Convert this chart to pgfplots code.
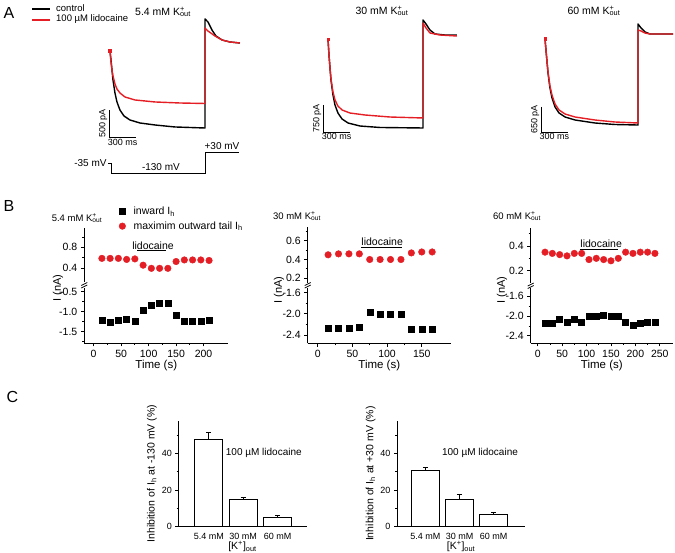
\documentclass[border=0pt]{standalone}
\usepackage{pgfplots}
\pgfplotsset{compat=1.18}
\usepackage{fontspec}
\setmainfont{Liberation Sans}
\definecolor{lred}{RGB}{228,30,36}
\newcommand{\Kout}{K\rlap{\textsuperscript{+}}\textsubscript{out}}
\newcommand{\fs}[1]{\fontsize{#1}{#1}\selectfont}

\pgfplotsset{
  /pgf/number format/assume math mode=true,
  trace/.style={scale only axis, hide axis, clip=false, anchor=south west,
    xmin=-100, xmax=1450},
  bl/.style={black, line width=1.4pt, line join=round},
  rd/.style={lred, line width=1.4pt, line join=round},
  bax/.style={scale only axis, anchor=south west, clip=false,
    axis y line*=left, tick align=outside,
    axis line style={-, line width=0.9pt},
    every tick/.style={black, line width=0.8pt},
    major tick length=3.5pt, minor tick length=2pt,
    tick label style={font=\fs{10.5}},
    yticklabel style={/pgf/number format/.cd, fixed, fixed zerofill, precision=1}},
  bup/.style={bax, axis x line=none},
  blo/.style={bax, axis x line*=bottom, minor x tick num=1,
    xlabel={Time (s)}, xlabel style={font=\fs{11.5}, yshift=4pt}},
  sq/.style={only marks, mark=square*, mark size=3pt, black},
  ci/.style={only marks, mark=*, mark size=3.3pt, lred, mark options={draw=lred, fill=lred}},
  cax/.style={scale only axis, anchor=south west, clip=false, height=106pt,
    ymin=0, ymax=57.8, axis x line*=bottom, axis y line*=left,
    axis line style={-, line width=0.9pt}, tick align=outside,
    every tick/.style={black, line width=0.8pt},
    major tick length=3pt, minor tick length=1.8pt,
    ytick={0,20,40}, minor ytick={10,30,50},
    xtick={0,1,2}, xticklabels={5.4 mM,30 mM,60 mM}, xtick style={draw=none},
    ybar, bar width=27.8pt,
    tick label style={font=\fs{9}}, label style={font=\fs{10.5}},
    xlabel={[K\textsuperscript{+}]\textsubscript{out}}, xlabel style={yshift=5pt}},
  cbar/.style={fill=white, draw=black, line width=1pt,
    error bars/.cd, y dir=plus, y explicit,
    error bar style={line width=1pt},
    error mark options={rotate=90, mark size=2.6pt, line width=1pt}},
}

\begin{document}
\begin{tikzpicture}
\useasboundingbox (0pt,0pt) rectangle (675pt,552pt);

% panel letters
\node[font=\fs{16}, anchor=west] at (0pt,539pt) {A};
\node[font=\fs{16}, anchor=west] at (0pt,346pt) {B};
\node[font=\fs{16}, anchor=west] at (3pt,155pt) {C};

% ---------------- A ----------------
\draw[black, line width=1.1pt] (32pt,543pt) -- (50pt,543pt);
\node[font=\fs{9.5}, anchor=west, inner sep=0pt] at (56pt,543.5pt) {control};
\draw[lred, line width=1.1pt] (32pt,532pt) -- (50pt,532pt);
\node[font=\fs{9.5}, anchor=west, inner sep=0pt] at (56pt,532.5pt) {100 µM lidocaine};

\node[font=\fs{10.5}] at (163pt,540pt) {5.4 mM \Kout};
\node[font=\fs{10.5}] at (382pt,541pt) {30 mM \Kout};
\node[font=\fs{10.5}] at (594pt,541pt) {60 mM \Kout};

\begin{axis}[trace, at={(100.95pt,393pt)}, width=140.25pt, height=151.2pt,
  ymin=-2000, ymax=800]
\addplot[bl] coordinates {(0,0) (11,-167) (22,-352) (33,-537) (55,-778) (77,-944)
  (110,-1093) (155,-1204) (221,-1278) (331,-1333) (497,-1370) (718,-1407) (1050,-1426)
  (1050,593) (1083,537) (1127,389) (1171,278) (1238,204) (1326,167) (1436,148)};
\addplot[rd] coordinates {(0,0) (11,-204) (22,-352) (33,-463) (55,-611) (77,-704)
  (110,-778) (166,-852) (276,-907) (497,-944) (773,-963) (1050,-972)
  (1050,426) (1083,370) (1160,278) (1238,204) (1326,167) (1436,148)};
\addplot[only marks, mark=square*, mark size=1.3pt, lred] coordinates {(0,0)};
\addplot[black, line width=1pt] coordinates {(-22,-2080) (19,-2080) (19,-2265)
  (1050,-2265) (1050,-1883) (1429,-1883)};
\draw[line width=0.9pt] (axis cs:-11,-1093) -- (axis cs:-11,-1593) -- (axis cs:289,-1593);
\node[font=\fs{9}, rotate=90, anchor=south, inner sep=1.5pt] at (axis cs:-11,-1343) {500 pA};
\node[font=\fs{9}, anchor=north, inner sep=1.5pt] at (axis cs:139,-1593) {300 ms};
\node[font=\fs{10}, anchor=east, inner sep=1pt] at (axis cs:-25,-2080) {-35 mV};
\node[font=\fs{10}] at (axis cs:563,-2148) {-130 mV};
\node[font=\fs{10}] at (axis cs:1238,-1759) {+30 mV};
\end{axis}

\begin{axis}[trace, at={(318.95pt,405pt)}, width=140.25pt, height=136.8pt,
  ymin=-3000, ymax=800]
\addplot[bl] coordinates {(0,0) (11,-444) (22,-806) (33,-1139) (55,-1556) (77,-1833)
  (110,-2056) (155,-2222) (221,-2333) (354,-2417) (575,-2458) (1050,-2472)
  (1050,528) (1083,417) (1127,250) (1182,139) (1293,111) (1425,111)};
\addplot[rd] coordinates {(0,0) (11,-444) (22,-806) (33,-1111) (55,-1472) (77,-1694)
  (110,-1861) (155,-1972) (243,-2056) (409,-2111) (685,-2167) (1050,-2194)
  (1050,444) (1083,306) (1127,167) (1238,111) (1425,83)};
\addplot[only marks, mark=square*, mark size=1.3pt, lred] coordinates {(0,0)};
\draw[line width=0.9pt] (axis cs:-55,-1833) -- (axis cs:-55,-2583) -- (axis cs:245,-2583);
\node[font=\fs{9}, rotate=90, anchor=south, inner sep=1.5pt] at (axis cs:-55,-2208) {750 pA};
\node[font=\fs{9}, anchor=north, inner sep=1.5pt] at (axis cs:95,-2583) {300 ms};
\end{axis}

\begin{axis}[trace, at={(536.14pt,397.5pt)}, width=137.3pt, height=146.3pt,
  ymin=-3000, ymax=800]
\addplot[bl] coordinates {(0,0) (11,-286) (23,-597) (34,-883) (56,-1273) (79,-1532)
  (113,-1766) (158,-1922) (226,-2026) (339,-2104) (564,-2182) (790,-2221) (1050,-2234)
  (1050,390) (1084,286) (1129,182) (1185,130) (1445,130)};
\addplot[rd] coordinates {(0,0) (11,-286) (23,-597) (34,-857) (56,-1221) (79,-1455)
  (113,-1688) (158,-1844) (226,-1948) (339,-2026) (564,-2104) (790,-2156) (1050,-2182)
  (1050,234) (1084,208) (1129,156) (1185,130) (1445,130)};
\addplot[only marks, mark=square*, mark size=1.3pt, lred] coordinates {(0,0)};
\draw[line width=0.9pt] (axis cs:-45,-1766) -- (axis cs:-45,-2416) -- (axis cs:255,-2416);
\node[font=\fs{9}, rotate=90, anchor=south, inner sep=1.5pt] at (axis cs:-45,-2091) {650 pA};
\node[font=\fs{9}, anchor=north, inner sep=1.5pt] at (axis cs:105,-2416) {300 ms};
\end{axis}

% ---------------- B ----------------
\node[font=\fs{9.5}] at (77pt,334pt) {5.4 mM \Kout};
\node[font=\fs{9.5}] at (297pt,336pt) {30 mM \Kout};
\node[font=\fs{9.5}] at (517pt,336pt) {60 mM \Kout};

% B1
\begin{axis}[bup, at={(84.3pt,270pt)}, width=144pt, height=54pt,
  xmin=-17, xmax=245, ymin=0.139, ymax=1.17,
  ytick={0.4,0.8}, minor ytick={0.6,1.0},
  legend style={at={(0.24,1.43)}, anchor=north west, draw=none, fill=none,
    font=\fs{10.5}, row sep=1.5pt, inner sep=0pt,
    /tikz/every odd column/.append style={column sep=6pt}},
  legend cell align=left]
\addlegendimage{sq}
\addlegendentry{inward I\textsubscript{h}}
\addplot[ci] coordinates {(15,0.59) (30,0.59) (45,0.59) (60,0.57) (75,0.58) (90,0.46)
  (105,0.40) (120,0.40) (135,0.40) (150,0.53) (165,0.56) (180,0.56) (195,0.56) (210,0.55)};
\addlegendentry{maximim outward tail I\textsubscript{h}}
\draw[line width=0.9pt] (axis cs:79,0.732) -- (axis cs:132,0.732);
\node[font=\fs{10.5}, anchor=south, inner sep=1.5pt] at (axis cs:108,0.732) {lidocaine};
\end{axis}
\begin{axis}[blo, at={(84.3pt,209pt)}, width=144pt, height=55pt,
  xmin=-17, xmax=245, ymin=-1.78, ymax=-0.41,
  xtick={0,50,...,200}, ytick={-1.5,-1.0,-0.5}, minor ytick={-1.75,-1.25,-0.75}]
\addplot[sq] coordinates {(15,-1.22) (30,-1.25) (45,-1.22) (60,-1.18) (75,-1.225) (90,-0.97)
  (105,-0.83) (120,-0.78) (135,-0.80) (150,-1.09) (165,-1.225) (180,-1.24) (195,-1.24) (210,-1.22)};
\end{axis}
\draw[line width=0.8pt] (81.3pt,264pt) -- (87.3pt,267pt) (81.3pt,266.5pt) -- (87.3pt,269.5pt);
\node[font=\fs{11}, rotate=90] at (58pt,264pt) {I (nA)};

% B2
\begin{axis}[bup, at={(307.7pt,269pt)}, width=143.2pt, height=56.3pt,
  xmin=-14.4, xmax=192, ymin=0.15, ymax=0.749,
  ytick={0.2,0.4,0.6}, minor ytick={0.3,0.5,0.7}]
\addplot[ci] coordinates {(15,0.45) (30,0.46) (45,0.46) (60,0.46) (75,0.40) (90,0.40)
  (105,0.40) (120,0.40) (135,0.47) (150,0.48) (165,0.48)};
\draw[line width=0.9pt] (axis cs:63,0.53) -- (axis cs:122,0.53);
\node[font=\fs{10.5}, anchor=south, inner sep=1.5pt] at (axis cs:93,0.53) {lidocaine};
\end{axis}
\begin{axis}[blo, at={(307.7pt,208.7pt)}, width=143.2pt, height=55.4pt,
  xmin=-14.4, xmax=192, ymin=-2.557, ymax=-1.51,
  xtick={0,50,100,150}, ytick={-2.4,-2.0,-1.6}, minor ytick={-2.2,-1.8}]
\addplot[sq] coordinates {(15,-2.28) (30,-2.28) (45,-2.28) (60,-2.25) (75,-1.975) (90,-2.005)
  (105,-2.005) (120,-2.005) (135,-2.29) (150,-2.30) (165,-2.29)};
\end{axis}
\draw[line width=0.8pt] (304.7pt,264pt) -- (310.7pt,267pt) (304.7pt,266.5pt) -- (310.7pt,269.5pt);
\node[font=\fs{11}, rotate=90] at (279pt,262pt) {I (nA)};

% B3
\begin{axis}[bup, at={(530.7pt,269pt)}, width=142.3pt, height=55pt,
  xmin=-14.3, xmax=277, ymin=0.1, ymax=0.546,
  ytick={0.2,0.4}, minor ytick={0.3,0.5}]
\addplot[ci] coordinates {(15,0.35) (30,0.34) (45,0.33) (60,0.32) (75,0.34) (90,0.34)
  (105,0.29) (120,0.30) (135,0.29) (150,0.28) (165,0.30) (180,0.35) (195,0.34) (210,0.35)
  (225,0.35) (240,0.34)};
\draw[line width=0.9pt] (axis cs:86.5,0.376) -- (axis cs:164,0.376);
\node[font=\fs{10.5}, anchor=south, inner sep=1.5pt] at (axis cs:130,0.376) {lidocaine};
\end{axis}
\begin{axis}[blo, at={(530.7pt,209pt)}, width=142.3pt, height=55pt,
  xmin=-14.3, xmax=277, ymin=-2.545, ymax=-1.434,
  xtick={0,50,...,250}, ytick={-2.4,-2.0,-1.6}, minor ytick={-2.2,-1.8}]
\addplot[sq] coordinates {(15,-2.15) (30,-2.15) (45,-2.07) (60,-2.12) (75,-2.07) (90,-2.12)
  (105,-2.00) (120,-2.01) (135,-1.99) (150,-2.01) (165,-2.00) (180,-2.13) (195,-2.18)
  (210,-2.14) (225,-2.12) (240,-2.12)};
\end{axis}
\draw[line width=0.8pt] (527.7pt,263.5pt) -- (533.7pt,266.5pt) (527.7pt,266pt) -- (533.7pt,269pt);
\node[font=\fs{11}, rotate=90] at (502pt,262pt) {I (nA)};

% ---------------- C ----------------
\begin{axis}[cax, at={(178.3pt,25.3pt)}, width=128.4pt, xmin=-0.89, xmax=2.85,
  ylabel={Inhibition of I\textsubscript{h} at -130 mV (\%)}, ylabel style={yshift=-2pt}]
\addplot[cbar] coordinates {(0,47.8) +- (0,3.6) (1,14.6) +- (0,1.4) (2,5.1) +- (0,0.9)};
\node[font=\fs{10}] at (axis cs:1.6,40.2) {100 µM lidocaine};
\end{axis}

\begin{axis}[cax, at={(397pt,25.3pt)}, width=128pt, xmin=-0.836, xmax=2.92,
  ylabel={Inhibition of I\textsubscript{h} at +30 mV (\%)}, ylabel style={yshift=-2pt}]
\addplot[cbar] coordinates {(0,30.4) +- (0,1.8) (1,14.9) +- (0,2.8) (2,6.4) +- (0,1.2)};
\node[font=\fs{10}] at (axis cs:1.6,40.2) {100 µM lidocaine};
\end{axis}
\end{tikzpicture}
\end{document}
